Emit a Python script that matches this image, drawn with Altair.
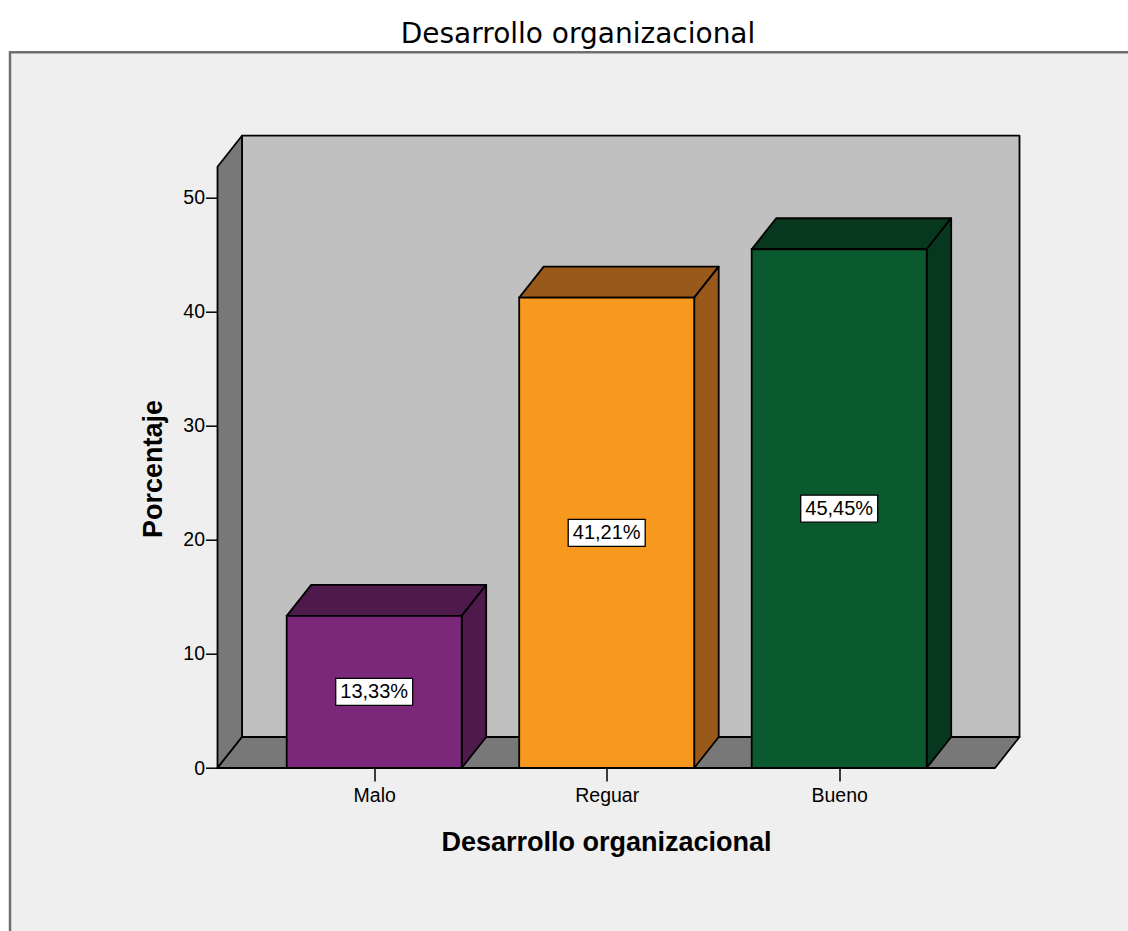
import altair as alt
import pandas as pd

# ---------------- data ----------------
chart_title = "Desarrollo organizacional"
x_title = "Desarrollo organizacional"
y_title = "Porcentaje"
categories = ["Malo", "Reguar", "Bueno"]
percentages = [13.33, 41.21, 45.45]
value_labels = ["13,33%", "41,21%", "45,45%"]
front_colors = ["#7b287a", "#f7991f", "#0b5a2f"]
shade_colors = ["#4d1a4b", "#98591a", "#07371c"]
y_ticks = [0, 10, 20, 30, 40, 50]

# ---------------- layout constants ----------------
PX_LEFT = 217.5
PX_TOP = 135.7
W = 802.0
H = 632.3
YMAX = 55.4
PPU = H / YMAX            # pixels per percent unit
DX = 24.5                 # depth (px, horizontal)
DY = 31.0 / PPU           # depth (units, vertical)
FLOOR_W = W - DX
WALL_TOP = YMAX - DY
BAR_X0 = 69.2
BAR_STEP = 232.5
BAR_W = 175.0
BOX_W = 77.0
BOX_H = 27.0

WALL_FILL = "#c0c0c0"
SIDE_FILL = "#787878"
PANEL_FILL = "#efefef"

# ---------------- build tables ----------------
walls = []
def poly(rows, pid, pts, fill):
    for k, (x, y2, y) in enumerate(pts):
        rows.append({"pid": pid, "k": k, "x": x, "y": y, "y2": y2, "fill": fill})

poly(walls, "a_back", [(DX, DY, YMAX), (W, DY, YMAX)], WALL_FILL)
poly(walls, "b_left", [(0, 0, WALL_TOP), (DX, DY, YMAX)], SIDE_FILL)
poly(walls, "c_floor", [(0, 0, 0), (DX, 0, DY), (FLOOR_W, 0, DY), (W, DY, DY)], SIDE_FILL)
walls_df = pd.DataFrame(walls)

shade = []
bars = []
for i, (cat, v, lab, fc, sc) in enumerate(zip(categories, percentages, value_labels, front_colors, shade_colors)):
    xl = BAR_X0 + i * BAR_STEP
    xr = xl + BAR_W
    poly(shade, f"{i}_top", [(xl, v, v), (xl + DX, v, v + DY), (xr, v, v + DY), (xr + DX, v + DY, v + DY)], sc)
    poly(shade, f"{i}_side", [(xr, 0, v), (xr + DX, DY, v + DY)], sc)
    xc = (xl + xr) / 2
    bars.append({
        "cat": cat, "value": v, "label": lab, "fill": fc,
        "xl": xl, "xr": xr, "xc": xc, "y0": 0.0, "ym": v / 2,
        "bx1": xc - BOX_W / 2, "bx2": xc + BOX_W / 2,
        "by1": v / 2 - BOX_H / 2 / PPU, "by2": v / 2 + BOX_H / 2 / PPU,
    })
shade_df = pd.DataFrame(shade)
bars_df = pd.DataFrame(bars)

centers = list(bars_df["xc"])
label_expr = ""
for c, name in zip(centers[:-1], categories[:-1]):
    label_expr += f"datum.value < {c + BAR_STEP / 2} ? '{name}' : "
label_expr += f"'{categories[-1]}'"

xscale = alt.Scale(domain=[0, W], nice=False, zero=False)
yscale = alt.Scale(domain=[0, YMAX], nice=False, zero=False)

x_axis = alt.Axis(
    values=centers, labelExpr=label_expr, domain=False, grid=False, zindex=1,
    tickSize=13, tickWidth=1.5, tickColor="black", labelPadding=5,
    labelFont="Liberation Sans", labelFontSize=19.5, labelColor="black",
    title=x_title, titleFont="Liberation Sans", titleFontSize=27, titleFontWeight="bold",
    titleColor="black", titleX=388.5, titleY=82, titleBaseline="alphabetic", titleAlign="center",
)
y_axis = alt.Axis(
    values=y_ticks, domain=False, grid=False, zindex=1,
    tickSize=12, tickWidth=1.5, tickColor="black", labelPadding=1,
    labelFont="Liberation Sans", labelFontSize=19.5, labelColor="black",
    title=y_title, titleFont="Liberation Sans", titleFontSize=27, titleFontWeight="bold",
    titleColor="black", titleX=-55.8, titleY=332.8, titleBaseline="alphabetic", titleAlign="center",
    titleAngle=270,
)

one = pd.DataFrame({"t": [chart_title]})

panel = alt.Chart(one).mark_rect(fill=PANEL_FILL, stroke="#6f6f6f", strokeWidth=2.5).encode(
    x=alt.value(10 - PX_LEFT), x2=alt.value(1140 - PX_LEFT),
    y=alt.value(52.3 - PX_TOP), y2=alt.value(950 - PX_TOP),
)

title = alt.Chart(one).mark_text(
    font="DejaVu Sans", fontSize=28, align="center", baseline="alphabetic", color="black"
).encode(x=alt.value(578 - PX_LEFT), y=alt.value(43 - PX_TOP), text="t:N")

area_kw = dict(stroke="black", strokeWidth=1.8, strokeJoin="round", interpolate="linear")

walls_layer = alt.Chart(walls_df).mark_area(**area_kw).encode(
    x=alt.X("x:Q", scale=xscale, axis=x_axis),
    y=alt.Y("y:Q", scale=yscale, axis=y_axis, stack=None),
    y2="y2:Q",
    fill=alt.Fill("fill:N", scale=None),
    detail="pid:N",
)

shade_layer = alt.Chart(shade_df).mark_area(**area_kw).encode(
    x=alt.X("x:Q", scale=xscale, axis=x_axis),
    y=alt.Y("y:Q", scale=yscale, axis=y_axis, stack=None),
    y2="y2:Q",
    fill=alt.Fill("fill:N", scale=None),
    detail="pid:N",
)

front_layer = alt.Chart(bars_df).mark_rect(stroke="black", strokeWidth=1.8).encode(
    x=alt.X("xl:Q", scale=xscale, axis=x_axis),
    x2="xr:Q",
    y=alt.Y("value:Q", scale=yscale, axis=y_axis),
    y2="y0:Q",
    fill=alt.Fill("fill:N", scale=None),
)

box_layer = alt.Chart(bars_df).mark_rect(fill="white", stroke="black", strokeWidth=1.3).encode(
    x=alt.X("bx1:Q", scale=xscale, axis=x_axis),
    x2="bx2:Q",
    y=alt.Y("by1:Q", scale=yscale, axis=y_axis),
    y2="by2:Q",
)

text_layer = alt.Chart(bars_df).mark_text(
    font="Liberation Sans", fontSize=20, color="black", align="center", baseline="middle"
).encode(
    x=alt.X("xc:Q", scale=xscale, axis=x_axis),
    y=alt.Y("ym:Q", scale=yscale, axis=y_axis),
    text="label:N",
)

chart = alt.layer(
    panel, title, walls_layer, shade_layer, front_layer, box_layer, text_layer
).properties(
    width=W, height=H, background="white",
    padding={"left": PX_LEFT, "top": PX_TOP, "right": 1128 - PX_LEFT - W, "bottom": 931 - PX_TOP - H},
    autosize=alt.AutoSizeParams(type="none"),
).configure_view(stroke=None)

chart.save("out.html", embed_options={"renderer": "svg", "actions": False})
